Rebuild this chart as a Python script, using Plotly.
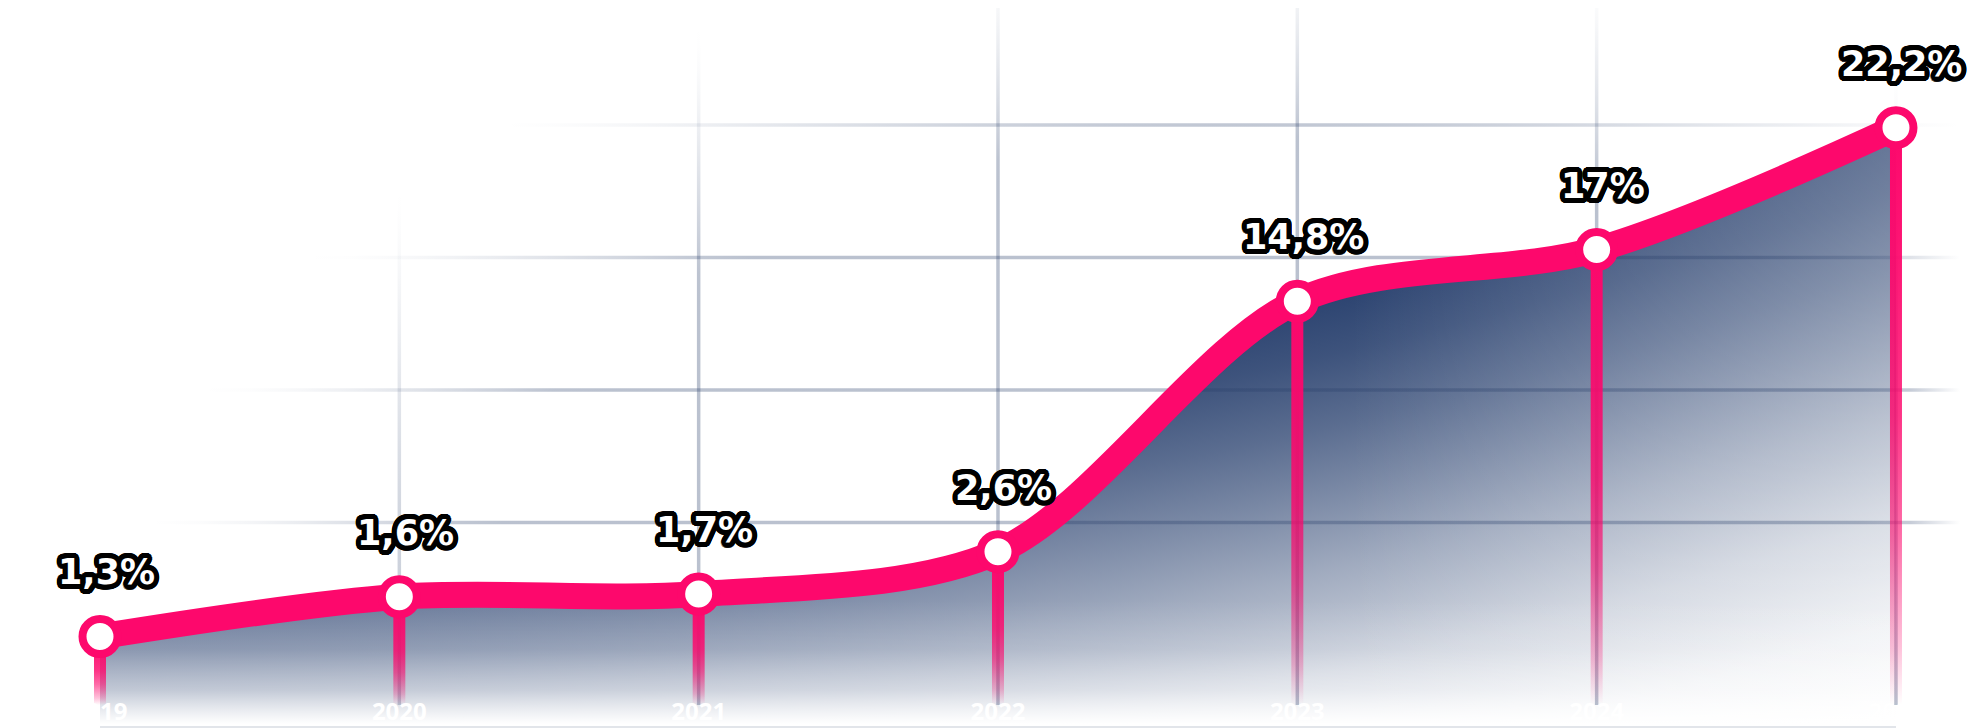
import math
import plotly.graph_objects as go

# ---------------- data ----------------
years = ["2019", "2020", "2021", "2022", "2023", "2024", "2025"]
values = [1.3, 1.6, 1.7, 2.6, 14.8, 17.0, 22.2]          # labelled shares (%)
levels = [0.14, 0.44, 0.46, 0.78, 2.67, 3.06, 3.98]      # drawn height of each point, in grid steps
grid_levels = [1, 2, 3, 4]                              # horizontal grid lines

# ---------------- layout constants ----------------
OFF = 8                     # page body margin of the exported html
W, H = 1969, 720
X_RANGE = [-92 / 299.33, (W - 92) / 299.33]
Y_RANGE = [-(H - 647) / 132.5, 647 / 132.5]
PINK = (253, 8, 108)
NAVY = (30, 55, 103)
GRID = (40, 62, 105)
WH = (255, 255, 255)


# helpers: screenshot pixel <-> data
def xpx(d):
    return (d - X_RANGE[0]) / (X_RANGE[1] - X_RANGE[0]) * W + OFF


def ypx(v):
    return (Y_RANGE[1] - v) / (Y_RANGE[1] - Y_RANGE[0]) * H + OFF


def xd(p):
    return X_RANGE[0] + (p - OFF) / W * (X_RANGE[1] - X_RANGE[0])


def yd(p):
    return Y_RANGE[1] - (p - OFF) / H * (Y_RANGE[1] - Y_RANGE[0])


def rgba(c, a):
    return f"rgba({c[0]},{c[1]},{c[2]},{max(0.0, min(1.0, a)):.3f})"


xs = list(range(len(years)))
y_bottom = yd(727)
NOLINE = dict(width=0, color="rgba(0,0,0,0)")
CURVE = dict(width=0, color="rgba(0,0,0,0)", shape="spline", smoothing=0.9)

traces = []

# ---------------- area fill: tilted (radial, far centre) navy gradient ----------------
ux, uy = math.sin(math.radians(10)), math.cos(math.radians(10))
P0 = (1000.0, 450.0)
L = 6000.0
S = 7000.0
C = (P0[0] - L * ux, P0[1] - L * uy)
t0 = ux * P0[0] + uy * P0[1]
t_tab = [500, 590, 660, 720, 800, 900, 1000, 1100]
a_tab = [0.98, 0.86, 0.73, 0.60, 0.42, 0.22, 0.08, 0.0]
area_scale = [[0.0, rgba(NAVY, 1.0)]]
for t, a in zip(t_tab, a_tab):
    area_scale.append([(L + (t - t0)) / S, rgba(NAVY, a)])
area_scale.append([1.0, rgba(NAVY, 0.0)])

xmin_px, xmax_px = C[0] - S, C[0] + S
ymin_px, ymax_px = C[1] - S, C[1] + S
bx_px = [100, 100, xmin_px, xmin_px, xmin_px, xmax_px, 100, 100, xpx(6)]
by_px = [727, ymax_px, ymax_px, ymin_px, ymax_px, ymax_px, ymax_px, 727, 727]
traces.append(go.Scatter(x=[xd(p) for p in bx_px], y=[yd(p) for p in by_px], mode="lines",
                         line=dict(width=0, color="rgba(0,0,0,0)", simplify=False),
                         hoverinfo="skip", showlegend=False))
traces.append(go.Scatter(x=xs, y=levels, mode="lines", line=CURVE,
                         fill="tonexty", fillgradient=dict(type="radial", colorscale=area_scale),
                         hoverinfo="skip", showlegend=False))

# ---------------- white lightening towards the right ----------------
traces.append(go.Scatter(x=[0, 6], y=[y_bottom, y_bottom], mode="lines",
                         line=NOLINE, hoverinfo="skip", showlegend=False))
right_scale = [[0.0, rgba(WH, 0.0)], [0.35, rgba(WH, 0.1)], [1.0, rgba(WH, 0.27)]]
traces.append(go.Scatter(x=xs, y=levels, mode="lines", line=CURVE, fill="tonexty",
                         fillgradient=dict(type="horizontal", colorscale=right_scale,
                                           start=xd(1350), stop=xd(1900)),
                         hoverinfo="skip", showlegend=False))

# ---------------- white fade at the bottom of the area ----------------
traces.append(go.Scatter(x=[0, 6], y=[y_bottom, y_bottom], mode="lines",
                         line=NOLINE, hoverinfo="skip", showlegend=False))
fade_scale = [[0.0, rgba(WH, 1.0)], [0.1, rgba(WH, 0.8)], [0.27, rgba(WH, 0.45)],
              [0.6, rgba(WH, 0.12)], [1.0, rgba(WH, 0.0)]]
traces.append(go.Scatter(x=xs, y=levels, mode="lines", line=CURVE, fill="tonexty",
                         fillgradient=dict(type="vertical", colorscale=fade_scale,
                                           start=yd(724), stop=yd(600)),
                         hoverinfo="skip", showlegend=False))


# ---------------- grid lines (faded towards the edges) ----------------
def grid_mask(px, py):
    r = math.sqrt(((px - 1250) / 1250) ** 2 + ((py - 650) / 800) ** 2)
    m = min(1.0, max(0.0, (0.89 - r) / 0.25)) ** 1.5
    right = min(1.0, max(0.0, (1960 - px) / 60))
    return m * right


GA = 0.32
half_h = yd(0) - yd(1.75)
for g in grid_levels:
    py = ypx(g)
    x0p, x1p = 0.0, 1960.0
    n = 40
    cs = []
    for k in range(n):
        f = k / (n - 1)
        cs.append([f, rgba(GRID, GA * grid_mask(x0p + f * (x1p - x0p), py))])
    xl, xr = xd(x0p), xd(x1p)
    traces.append(go.Scatter(x=[xl, xr, xr, xl, xl], y=[g - half_h, g - half_h, g + half_h, g + half_h, g - half_h],
                             mode="lines", line=NOLINE, fill="toself",
                             fillgradient=dict(type="horizontal", colorscale=cs, start=xl, stop=xr),
                             hoverinfo="skip", showlegend=False))

half_w = xd(1.75) - xd(0)
for i in xs:
    px = xpx(i)
    ytop_p, ybot_p = 0.0, 705.0
    n = 32
    cs = []
    for k in range(n):
        f = k / (n - 1)
        py = ybot_p - f * (ybot_p - ytop_p)
        cs.append([f, rgba(GRID, GA * grid_mask(px, py))])
    yb, yt = yd(ybot_p), yd(ytop_p)
    traces.append(go.Scatter(x=[i - half_w, i + half_w, i + half_w, i - half_w, i - half_w], y=[yb, yb, yt, yt, yb],
                             mode="lines", line=NOLINE, fill="toself",
                             fillgradient=dict(type="vertical", colorscale=cs, start=yb, stop=yt),
                             hoverinfo="skip", showlegend=False))

# ---------------- bottom base line ----------------
traces.append(go.Scatter(x=[0, 6], y=[y_bottom, y_bottom], mode="lines",
                         line=dict(width=2, color="rgb(226,229,234)"), hoverinfo="skip", showlegend=False))

# ---------------- stems ----------------
stem_w = xd(6) - xd(0)
stem_bot = yd(705)
stem_scale = [[0.0, rgba(PINK, 0.0)], [0.1, rgba(PINK, 0.25)], [0.3, rgba(PINK, 0.6)],
              [0.5, rgba(PINK, 0.82)], [0.8, rgba(PINK, 0.95)], [1.0, rgba(PINK, 1.0)]]
for i, lv in zip(xs, levels):
    traces.append(go.Scatter(x=[i - stem_w, i + stem_w, i + stem_w, i - stem_w, i - stem_w],
                             y=[stem_bot, stem_bot, lv, lv, stem_bot],
                             mode="lines", line=NOLINE, fill="toself",
                             fillgradient=dict(type="vertical", colorscale=stem_scale),
                             hoverinfo="skip", showlegend=False))

# ---------------- main line + markers ----------------
traces.append(go.Scatter(x=xs, y=levels, mode="lines",
                         line=dict(width=26, color=rgba(PINK, 1), shape="spline", smoothing=0.9),
                         hoverinfo="skip", showlegend=False))
traces.append(go.Scatter(x=xs, y=levels, mode="markers",
                         marker=dict(size=35, color="white", line=dict(width=8, color=rgba(PINK, 1))),
                         hoverinfo="skip", showlegend=False))

fig = go.Figure(traces)

# ---------------- value labels ----------------
shadow_parts = []
for rad, nang in ((5.0, 32), (3.5, 24), (2.0, 16)):
    for k in range(nang):
        ang = 2 * math.pi * k / nang
        shadow_parts.append(f"{rad * math.cos(ang):.2f}px {rad * math.sin(ang):.2f}px 0px #000")
shadow = ", ".join(shadow_parts)

for i, (v, lv) in enumerate(zip(values, levels)):
    txt = f"{v:g}".replace(".", ",") + "%"
    fig.add_annotation(x=i, y=lv, text=txt, showarrow=False, xshift=6, yshift=64,
                       xanchor="center", yanchor="middle",
                       font=dict(family="DejaVu Sans", size=35, color="white", weight="bold", shadow=shadow))

fig.update_layout(
    width=W, height=H,
    margin=dict(l=0, r=0, t=0, b=0),
    paper_bgcolor="white", plot_bgcolor="white",
    showlegend=False, hovermode=False,
    xaxis=dict(range=X_RANGE, tickvals=xs, ticktext=years, ticklabelposition="inside",
               ticklabelstandoff=0,
               tickfont=dict(family="Open Sans", size=24, color="white", weight="bold"),
               showgrid=False, zeroline=False, showline=False, ticks="", automargin=False,
               fixedrange=True),
    yaxis=dict(range=Y_RANGE, showgrid=False, zeroline=False, showline=False,
               showticklabels=False, ticks="", automargin=False, fixedrange=True),
)

fig.write_html("out.html")
